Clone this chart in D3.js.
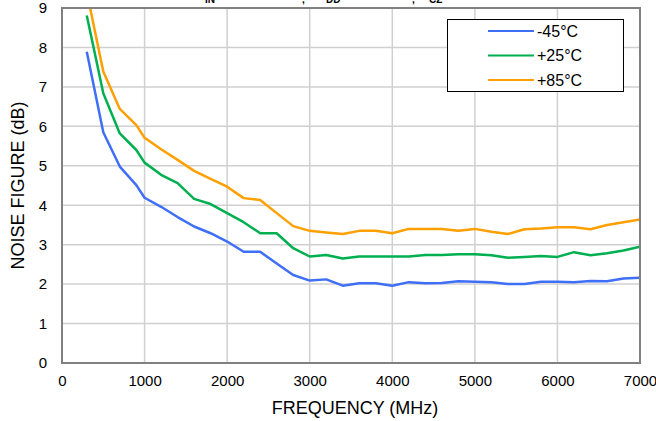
<!DOCTYPE html>
<html><head><meta charset="utf-8">
<script src="https://cdn.jsdelivr.net/npm/d3@7/dist/d3.min.js"></script>
<style>body{margin:0;background:#fff}svg{display:block;font-family:Arial,"Liberation Sans",sans-serif}</style>
</head><body><svg id="c" width="656" height="421"></svg>
<script>
const freqs = [300,500,700,900,1000,1200,1400,1600,1800,2000,2200,2400,2600,2800,3000,3200,3400,3600,3800,4000,4200,4400,4600,4800,5000,5200,5400,5600,5800,6000,6200,6400,6600,6800,7000];
const tempM45 = [7.89,5.85,4.98,4.51,4.19,3.96,3.70,3.46,3.29,3.08,2.82,2.82,2.52,2.23,2.09,2.12,1.96,2.02,2.02,1.96,2.05,2.02,2.03,2.07,2.06,2.05,2.00,2.00,2.06,2.06,2.05,2.08,2.07,2.14,2.16];
const tempP25 = [8.81,6.84,5.82,5.40,5.08,4.77,4.56,4.16,4.03,3.80,3.57,3.29,3.29,2.91,2.70,2.74,2.65,2.70,2.70,2.70,2.70,2.74,2.74,2.76,2.76,2.73,2.67,2.69,2.71,2.69,2.81,2.73,2.78,2.85,2.95];
const tempP85 = [9.41,7.39,6.44,6.03,5.71,5.42,5.15,4.87,4.67,4.47,4.18,4.13,3.80,3.47,3.35,3.31,3.27,3.35,3.35,3.29,3.40,3.40,3.40,3.35,3.40,3.33,3.27,3.39,3.41,3.44,3.44,3.39,3.50,3.57,3.64];
const seriesNames = ["-45°C","+25°C","+85°C"];
const seriesColors = ["#3f6ff7","#00b050","#ff9f00"];
const xTicks = [0,1000,2000,3000,4000,5000,6000,7000];
const yTicks = [0,1,2,3,4,5,6,7,8,9];

const svg = d3.select("#c");
const L=62,R=640,T=8,B=363;
const x = d3.scaleLinear().domain([0,7000]).range([L,R]);
const y = d3.scaleLinear().domain([0,9]).range([B,T]);

// title fragments (cut off at top)
const tf = [["IN",205],[",",302],["DD",326],[",",412],["CZ",429]];
svg.selectAll("text.tf").data(tf).enter().append("text").attr("class","tf")
  .attr("x",d=>d[1]).attr("y",3).attr("font-size",10).attr("font-weight","bold").text(d=>d[0]);

// grid
svg.append("g").selectAll("line").data(xTicks.slice(1,-1)).enter().append("line")
  .attr("x1",d=>x(d)).attr("x2",d=>x(d)).attr("y1",T).attr("y2",B).attr("stroke","#d0d0d0").attr("stroke-width",1.5);
svg.append("g").selectAll("line").data(yTicks.slice(1,-1)).enter().append("line")
  .attr("y1",d=>y(d)).attr("y2",d=>y(d)).attr("x1",L).attr("x2",R).attr("stroke","#d0d0d0").attr("stroke-width",1.5);

// axes labels via d3 axes
const xa = svg.append("g").attr("transform",`translate(0,${B})`).call(d3.axisBottom(x).tickValues(xTicks).tickSize(0).tickPadding(12).tickFormat(d3.format("d")));
xa.select(".domain").remove();
xa.selectAll("text").attr("font-size",15).attr("fill","#000").attr("font-family","Arial,'Liberation Sans',sans-serif");
const ya = svg.append("g").attr("transform",`translate(${L},0)`).call(d3.axisLeft(y).tickValues(yTicks).tickSize(0).tickPadding(15));
ya.select(".domain").remove();
ya.selectAll("text").attr("font-size",15).attr("fill","#000").attr("font-family","Arial,'Liberation Sans',sans-serif");

// lines
svg.append("defs").append("clipPath").attr("id","clip").append("rect").attr("x",L).attr("y",T).attr("width",R-L).attr("height",B-T);
const line = d3.line().x((d,i)=>x(freqs[i])).y(d=>y(d));
const all = [tempM45,tempP25,tempP85];
svg.append("g").attr("clip-path","url(#clip)").selectAll("path").data(all).enter().append("path")
  .attr("d",line).attr("fill","none").attr("stroke",(d,i)=>seriesColors[i]).attr("stroke-width",2.5).attr("stroke-linejoin","round");

// frame
svg.append("rect").attr("x",L).attr("y",T).attr("width",R-L).attr("height",B-T).attr("fill","none").attr("stroke","#808080").attr("stroke-width",2);

// axis titles
svg.append("text").attr("x",(L+R)/2+4).attr("y",414).attr("text-anchor","middle").attr("font-size",18).text("FREQUENCY (MHz)");
svg.append("text").attr("transform",`translate(24,${(T+B)/2}) rotate(-90)`).attr("text-anchor","middle").attr("font-size",18).text("NOISE FIGURE (dB)");

// legend
const lg = svg.append("g");
lg.append("rect").attr("x",447.5).attr("y",19.5).attr("width",176).attr("height",72).attr("fill","#fff").attr("stroke","#000").attr("stroke-width",1);
seriesNames.forEach((n,i)=>{
  const yy = 31 + i*24.5;
  lg.append("line").attr("x1",488).attr("x2",534).attr("y1",yy).attr("y2",yy).attr("stroke",seriesColors[i]).attr("stroke-width",2);
  lg.append("text").attr("x",537).attr("y",yy+5.5).attr("font-size",16).text(n);
});
</script></body></html>
